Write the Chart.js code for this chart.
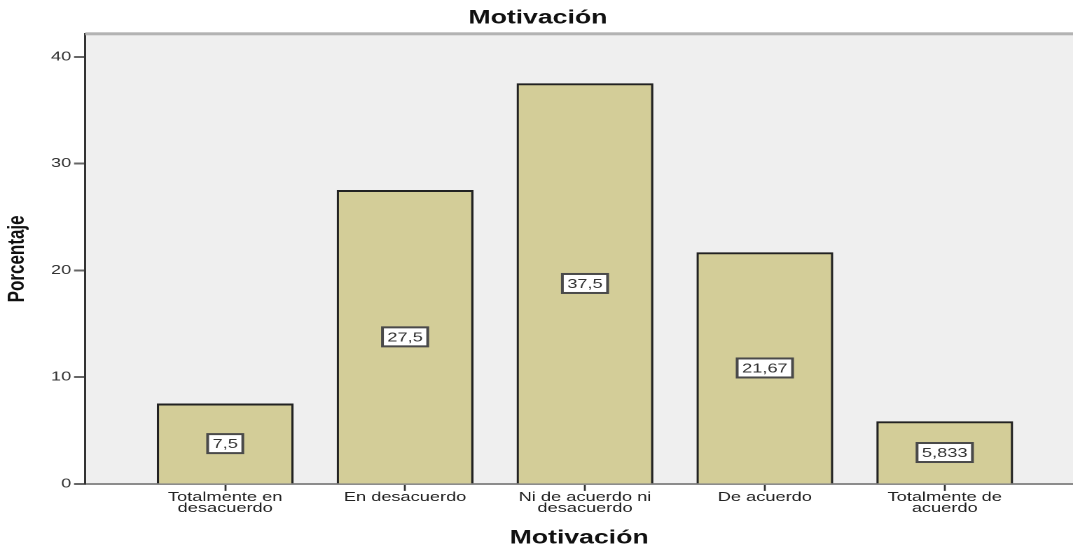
<!DOCTYPE html>
<html>
<head>
<meta charset="utf-8">
<script src="https://cdn.jsdelivr.net/npm/chart.js@4/dist/chart.umd.min.js"></script>
<style>
  html, body { margin: 0; padding: 0; background: #fff; overflow: hidden; }
  #c { display: block; }
</style>
</head>
<body>
<!-- drawn on a narrower canvas and widened horizontally, giving the wide SPSS-style lettering -->
<canvas id="c" width="766" height="548" style="width:1073px;height:548px"></canvas>
<script>
const categories = [
  ["Totalmente en", "desacuerdo"],
  "En desacuerdo",
  ["Ni de acuerdo ni", "desacuerdo"],
  "De acuerdo",
  ["Totalmente de", "acuerdo"]
];
const percentages = [7.5, 27.5, 37.5, 21.67, 5.833];
const yTicks = [0, 10, 20, 30, 40];

const FONT = "'Liberation Sans', Arial, Helvetica, sans-serif";
Chart.defaults.font.family = FONT;

// Percent values written with a decimal comma
const fmt = v => String(v).replace('.', ',');

// Light grey plot background and the grey frame line along the top
const plotFrame = {
  id: 'plotFrame',
  beforeDraw(chart) {
    const { ctx, chartArea: a } = chart;
    ctx.save();
    ctx.fillStyle = '#efefef';
    ctx.fillRect(a.left, a.top, a.right - a.left, a.bottom - a.top);
    ctx.restore();
  },
  afterDraw(chart) {
    const { ctx, chartArea: a } = chart;
    ctx.save();
    ctx.fillStyle = '#b3b3b3';
    ctx.fillRect(a.left, a.top - 1.5, a.right - a.left, 3);
    ctx.restore();
  }
};

// Boxed value label in the middle of each bar
const valueBoxes = {
  id: 'valueBoxes',
  afterDatasetsDraw(chart) {
    const ctx = chart.ctx;
    const meta = chart.getDatasetMeta(0);
    ctx.save();
    ctx.font = "13px " + FONT;
    ctx.textAlign = 'center';
    ctx.textBaseline = 'middle';
    meta.data.forEach((bar, i) => {
      const t = fmt(percentages[i]);
      const w = ctx.measureText(t).width + 7;
      const h = 19;
      const cx = bar.x;
      const cy = (bar.y + bar.base) / 2;
      ctx.fillStyle = '#ffffff';
      ctx.fillRect(cx - w / 2, cy - h / 2, w, h);
      ctx.strokeStyle = '#4a4a4a';
      ctx.lineWidth = 2;
      ctx.strokeRect(cx - w / 2, cy - h / 2, w, h);
      ctx.fillStyle = '#333333';
      ctx.fillText(t, cx, cy + 1);
    });
    ctx.restore();
  }
};

new Chart(document.getElementById('c'), {
  type: 'bar',
  data: {
    datasets: [{
      data: percentages.map((v, i) => ({ x: i + 1, y: v })),
      backgroundColor: '#d3cd98',
      borderColor: '#222222',
      borderWidth: { top: 2, left: 1.6, right: 1.6, bottom: 0 },
      borderSkipped: 'bottom',
      barThickness: 97
    }]
  },
  options: {
    responsive: false,
    devicePixelRatio: 2,
    animation: false,
    layout: { padding: { left: 2, right: 0, top: 0, bottom: 0 } },
    plugins: {
      legend: { display: false },
      tooltip: { enabled: false },
      title: {
        display: true,
        text: 'Motivación',
        color: '#111',
        font: { size: 19, weight: 'bold' },
        padding: { top: 7, bottom: 4 }
      }
    },
    scales: {
      x: {
        type: 'linear',
        offset: false,
        min: 0.222,
        max: 5.713,
        afterBuildTicks: s => { s.ticks = categories.map((_, i) => ({ value: i + 1 })); },
        ticks: {
          callback: (v, i) => categories[i],
          color: '#222',
          font: { size: 13, lineHeight: 0.85 },
          padding: 1,
          autoSkip: false,
          maxRotation: 0
        },
        grid: { offset: false, drawOnChartArea: false, drawTicks: true, tickLength: 7, tickColor: '#333', tickWidth: 1.4 },
        border: { display: true, color: '#8c8c8c', width: 2 },
        title: {
          display: true,
          text: 'Motivación',
          color: '#111',
          font: { size: 19, weight: 'bold', lineHeight: 1 },
          padding: { top: 14, bottom: 0 }
        }
      },
      y: {
        min: 0,
        max: 42.16,
        afterBuildTicks: s => { s.ticks = yTicks.map(v => ({ value: v })); },
        ticks: { color: '#333', font: { size: 13 }, padding: 2 },
        grid: { drawOnChartArea: false, drawTicks: true, tickLength: 8, tickColor: '#666', tickWidth: 2 },
        border: { display: true, color: '#333', width: 1.5 },
        title: {
          display: true,
          text: 'Porcentaje',
          color: '#111',
          font: { size: 17, weight: 'bold' },
          padding: { top: 0, bottom: 12 }
        }
      }
    }
  },
  plugins: [plotFrame, valueBoxes]
});
</script>
</body>
</html>
